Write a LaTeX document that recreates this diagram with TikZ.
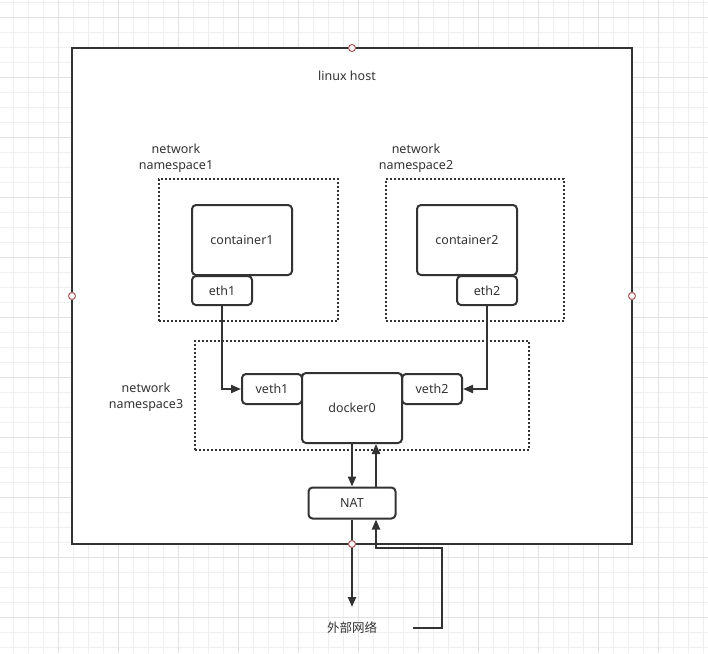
\documentclass[tikz,border=0pt]{standalone}
\usepackage{fontspec}
\setmainfont{Noto Sans}
\newfontfamily\cjk{Noto Sans CJK SC}
\usetikzlibrary{arrows.meta}
\definecolor{ink}{HTML}{333333}
\definecolor{txt}{HTML}{333333}
\definecolor{gminor}{HTML}{EFEFEF}
\definecolor{gmajor}{HTML}{E2E2E2}
\definecolor{mark}{HTML}{B85450}
\tikzset{
  box/.style={draw=ink, line width=2pt, rounded corners=4pt, fill=white},
  nsbox/.style={draw=ink, line width=2pt, dash pattern=on 2pt off 2pt},
  lbl/.style={text=txt, font=\fontsize{12.5}{15.5}\selectfont, align=center, inner sep=0pt},
  conn/.style={draw=ink, line width=2pt, -{Triangle[length=10pt,width=8pt]}},
  hostmark/.style={circle, draw=mark, fill=white, line width=1pt, minimum size=7pt, inner sep=0pt},
}
\begin{document}
\begin{tikzpicture}[x=1pt,y=-1pt]
\useasboundingbox (0,0) rectangle (708,653);
% grid
\foreach \x in {13,28,...,708} \draw[gminor, line width=1pt] (\x,0) -- (\x,653);
\foreach \y in {2,17,...,653} \draw[gminor, line width=1pt] (0,\y) -- (708,\y);
\foreach \x in {58,118,...,708} \draw[gmajor, line width=1pt] (\x,0) -- (\x,653);
\foreach \y in {17,77,...,653} \draw[gmajor, line width=1pt] (0,\y) -- (708,\y);
% host
\node[draw=ink, line width=2pt, fill=white, minimum width=560pt, minimum height=496pt, inner sep=0pt] (host) at (352,296) {};
\node[lbl] (hostlbl) at (347,76) {linux host};
% namespaces
\node[nsbox, minimum width=179pt, minimum height=142pt, inner sep=0pt] (ns1) at (248.5,250) {};
\node[lbl] (ns1lbl) at (176,158) {network\\namespace1};
\node[nsbox, minimum width=178pt, minimum height=142pt, inner sep=0pt] (ns2) at (475,250) {};
\node[lbl] (ns2lbl) at (416,158) {network\\namespace2};
\node[nsbox, minimum width=334pt, minimum height=109pt, inner sep=0pt] (ns3) at (362,395.5) {};
\node[lbl] (ns3lbl) at (146,397) {network\\namespace3};
% containers
\node[box, minimum width=100pt, minimum height=70pt, inner sep=0pt] (c1) at (242,240) {};
\node[lbl] at (c1) {container1};
\node[box, minimum width=60pt, minimum height=29pt, inner sep=0pt] (eth1) at (222,290.5) {};
\node[lbl] at (eth1) {eth1};
\node[box, minimum width=100pt, minimum height=70pt, inner sep=0pt] (c2) at (467,240) {};
\node[lbl] at (c2) {container2};
\node[box, minimum width=60pt, minimum height=29pt, inner sep=0pt] (eth2) at (487,290.5) {};
\node[lbl] at (eth2) {eth2};
% bridge
\node[box, minimum width=60pt, minimum height=30pt, inner sep=0pt] (veth1) at (272,389) {};
\node[lbl] at (veth1) {veth1};
\node[box, minimum width=60pt, minimum height=30pt, inner sep=0pt] (veth2) at (432,389) {};
\node[lbl] at (veth2) {veth2};
\node[box, minimum width=100pt, minimum height=70pt, inner sep=0pt] (docker) at (352,408) {};
\node[lbl] at (docker) {docker0};
\node[box, minimum width=87pt, minimum height=31pt, inner sep=0pt] (nat) at (352,503) {};
\node[lbl] at (nat) {NAT};
\node[lbl, font=\cjk\fontsize{12.5}{15.5}\selectfont] (ext) at (352,628) {外部网络};
% markers
\node[hostmark] (m1) at (352,48) {};
\node[hostmark] (m2) at (72,296) {};
\node[hostmark] (m3) at (632,296) {};
% connectors
\draw[conn] (eth1.south) |- (veth1.west);
\draw[conn] (eth2.south) |- (veth2.east);
\draw[conn] (docker.south) -- (nat.north);
\draw[conn] (nat.north -| 376,0) -- (docker.south -| 376,0);
\coordinate (r1) at (413,628);
\coordinate (r2) at (442,628);
\coordinate (r3) at (442,548);
\coordinate (r4) at (376,548);
\draw[conn] (r1) -- (r2) -- (r3) -- (r4) -- (nat.south -| r4);
\draw[conn] (nat.south) -- (352,607);
\node[hostmark] (m4) at (352,544) {};
\end{tikzpicture}
\end{document}
